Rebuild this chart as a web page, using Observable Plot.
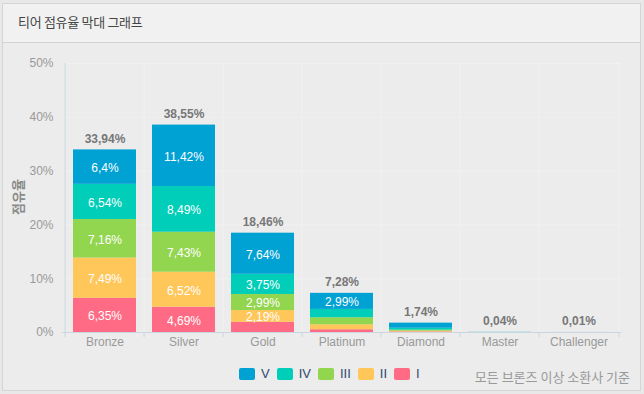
<!DOCTYPE html>
<html><head><meta charset="utf-8">
<script src="https://cdn.jsdelivr.net/npm/d3@7"></script>
<script src="https://cdn.jsdelivr.net/npm/@observablehq/plot@0.6"></script>
<style>
html,body{margin:0;padding:0;background:#e8e8e8;width:644px;height:394px;overflow:hidden;font-family:"Liberation Sans","Noto Sans CJK KR",sans-serif;}
#panel{position:absolute;left:2px;top:3px;width:639px;height:388px;box-sizing:border-box;border:1px solid #d5d5d5;background:#ececec;}
#header{position:absolute;left:3px;top:4px;width:637px;height:38px;background:#f1f1f1;border-bottom:1px solid #d3d3d3;}
#title{position:absolute;left:18px;top:13px;font-family:"Noto Sans CJK KR",sans-serif;font-size:13px;line-height:18px;color:#444;letter-spacing:-0.3px;}
#chart{position:absolute;left:0;top:42px;}
#ylabel{position:absolute;left:17px;top:197px;transform:translate(-50%,-50%) rotate(-90deg);font-family:"Noto Sans CJK KR",sans-serif;font-weight:bold;font-size:13px;color:#8a8a8a;white-space:nowrap;}
#legend{position:absolute;left:239px;top:366px;display:flex;align-items:center;font-size:13px;color:#2c4a6e;}
#legend .item{display:flex;align-items:center;margin-right:7px;}
#legend .sw{width:16px;height:12px;border-radius:2px;margin-right:6px;}
#caption{position:absolute;right:14px;top:367px;font-family:"Noto Sans CJK KR",sans-serif;font-size:13px;color:#999;}
</style></head>
<body>
<div id="panel"></div>
<div id="header"></div>
<div id="title">티어 점유율 막대 그래프</div>
<div id="chart"></div>
<div id="ylabel">점유율</div>
<div id="legend"></div>
<div id="caption">모든 브론즈 이상 소환사 기준</div>
<script>
const categories = ["Bronze","Silver","Gold","Platinum","Diamond","Master","Challenger"];
const tiers = ["I","II","III","IV","V"];
const legendOrder = ["V","IV","III","II","I"];
const tierColors = ["#ff6b84","#ffc65a","#92d54e","#00ceb9","#00a1d3"];
const valuesI   = [6.35, 4.69, 1.89, 0.51, 0.10, 0.002, 0.001];
const valuesII  = [7.49, 6.52, 2.19, 0.93, 0.14, 0.003, 0.001];
const valuesIII = [7.16, 7.43, 2.99, 1.30, 0.20, 0.005, 0.001];
const valuesIV  = [6.54, 8.49, 3.75, 1.55, 0.35, 0.01, 0.002];
const valuesV   = [6.4, 11.42, 7.64, 2.99, 0.95, 0.02, 0.005];
const totals    = [33.94, 38.55, 18.46, 7.28, 1.74, 0.04, 0.01];
const yTicks = [0, 10, 20, 30, 40, 50];

const seriesValues = [valuesI, valuesII, valuesIII, valuesIV, valuesV];
const rows = [];
categories.forEach((c, i) => tiers.forEach((t, j) => rows.push({category: c, tier: t, value: seriesValues[j][i]})));
const totalRows = categories.map((c, i) => ({category: c, total: totals[i]}));
const fmt = v => String(v).replace(".", ",") + "%";

const W = 644, H = 310, mL = 62, mR = 23, mT = 21, mB = 20;
const step = (W - mL - mR) / categories.length;
const gridColor = "#f1f1f1";
const axisColor = "#cbd6e0";

const chart = Plot.plot({
  width: W, height: H,
  marginLeft: mL, marginRight: mR, marginTop: mT, marginBottom: mB,
  style: {background: "transparent", fontFamily: "'Liberation Sans','Noto Sans CJK KR',sans-serif", fontSize: "12px", color: "#999", overflow: "visible"},
  x: {domain: categories, paddingInner: 0.2, paddingOuter: 0.1, label: null},
  y: {domain: [0, 50], label: null},
  color: {domain: tiers, range: tierColors},
  marks: [
    Plot.gridY(yTicks, {stroke: gridColor, strokeOpacity: 1}),
    Plot.ruleX(categories, {x: d => d, dx: -step / 2, stroke: gridColor, strokeOpacity: 1}),
    Plot.ruleX([categories[categories.length - 1]], {x: d => d, dx: step / 2, stroke: gridColor, strokeOpacity: 1}),
    Plot.barY(rows, {x: "category", y: "value", fill: "tier"}),
    Plot.text(rows, Plot.stackY({x: "category", y: "value", z: "tier", text: d => d.value >= 2 ? fmt(d.value) : "", fill: "white", dy: 1, fontSize: 12})),
    Plot.text(totalRows, {x: "category", y: "total", text: d => fmt(d.total), dy: -11, fontWeight: "bold", fill: "#777", fontSize: 12}),
    Plot.ruleY([0], {stroke: axisColor}),
    Plot.ruleX([categories[0]], {x: d => d, dx: -step / 2, y1: 0, y2: 50, stroke: axisColor}),
    Plot.ruleX(categories, {x: d => d, dx: -step / 2, y1: 0, y2: 0, insetBottom: -5, stroke: axisColor}),
    Plot.ruleX([categories[categories.length - 1]], {x: d => d, dx: step / 2, y1: 0, y2: 0, insetBottom: -5, stroke: axisColor}),
    Plot.axisY(yTicks, {tickSize: 0, tickPadding: 9, tickFormat: d => d + "%", label: null, fill: "#999"}),
    Plot.axisX({tickSize: 0, tickPadding: 5, label: null, fill: "#999"})
  ]
});
document.getElementById("chart").appendChild(chart);

const legend = document.getElementById("legend");
legendOrder.forEach(t => {
  const item = document.createElement("div");
  item.className = "item";
  const sw = document.createElement("div");
  sw.className = "sw";
  sw.style.background = tierColors[tiers.indexOf(t)];
  const lab = document.createElement("span");
  lab.textContent = t;
  item.appendChild(sw);
  item.appendChild(lab);
  legend.appendChild(item);
});
</script>
</body></html>
